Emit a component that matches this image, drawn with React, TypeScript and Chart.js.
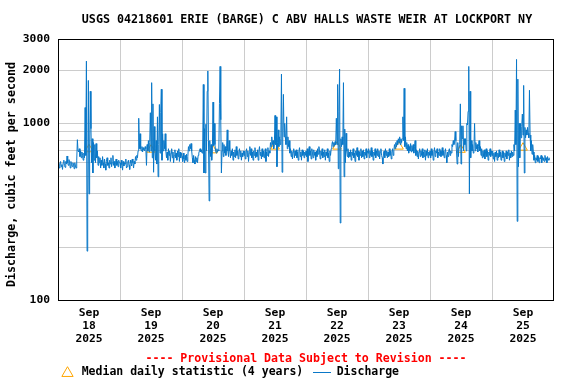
import React, { useEffect, useRef } from 'react';
import { Chart, registerables } from 'chart.js';

Chart.register(...registerables);

const TITLE = 'USGS 04218601 ERIE (BARGE) C ABV HALLS WASTE WEIR AT LOCKPORT NY';
const Y_TITLE = 'Discharge, cubic feet per second';
const PROVISIONAL = '---- Provisional Data Subject to Revision ----';
const LEGEND_MEDIAN = 'Median daily statistic (4 years)';
const LEGEND_DISCHARGE = 'Discharge';

const monthLabel = 'Sep';
const yearLabel = '2025';
const dayLabels = ['18', '19', '20', '21', '22', '23', '24', '25'];

const yTickValues = [100, 200, 300, 400, 500, 600, 700, 800, 900, 1000, 2000, 3000];
const yLabeledValues = [100, 1000, 2000, 3000];

// Discharge, cubic feet per second, 15-minute values for each day (from 00:00)
const sep18 = [575, 600, 560, 590, 610, 570, 585, 550, 600, 620, 580, 565, 610, 590, 655, 600, 580, 625, 600, 560, 610, 585, 570, 600, 590, 555, 600, 575, 560, 620, 810, 700, 690, 720, 650, 700, 640, 690, 660, 620, 680, 640, 1230, 660, 2250, 190, 365, 1750, 400, 700, 1520, 935, 600, 820, 525, 780, 620, 760, 600, 770, 640, 700, 580, 650, 600, 640, 560, 620, 580, 650, 600, 560, 630, 590, 545, 610, 640, 580, 600, 560, 620, 590, 640, 570, 600, 660, 580, 610, 560, 600, 630, 580, 610, 570, 620, 600];
const sep19 = [600, 560, 620, 585, 545, 610, 575, 600, 590, 630, 560, 570, 605, 620, 580, 550, 620, 600, 575, 630, 600, 560, 610, 590, 650, 620, 660, 640, 700, 1070, 720, 875, 720, 700, 740, 690, 730, 710, 700, 740, 720, 580, 760, 700, 800, 690, 780, 1150, 700, 1700, 640, 1290, 530, 960, 700, 620, 800, 590, 1090, 500, 760, 1280, 680, 1150, 1560, 620, 875, 700, 800, 720, 875, 700, 640, 690, 620, 720, 660, 700, 610, 680, 720, 640, 690, 600, 660, 710, 640, 680, 620, 700, 650, 720, 610, 690, 640, 680];
const sep20 = [650, 610, 680, 630, 600, 660, 620, 670, 610, 650, 740, 700, 760, 720, 770, 700, 640, 600, 660, 620, 590, 650, 610, 640, 600, 660, 680, 700, 720, 690, 710, 680, 700, 1660, 525, 935, 525, 990, 700, 1520, 1980, 800, 365, 800, 650, 760, 620, 700, 1320, 750, 1000, 760, 700, 680, 720, 690, 710, 700, 1300, 2100, 1050, 525, 700, 780, 650, 760, 680, 740, 660, 720, 920, 700, 650, 800, 700, 640, 700, 660, 720, 620, 690, 650, 710, 640, 740, 660, 700, 630, 690, 720, 650, 700, 620, 680, 650, 700];
const sep21 = [660, 700, 630, 690, 720, 650, 700, 610, 680, 740, 660, 720, 640, 690, 620, 700, 660, 730, 640, 690, 650, 710, 620, 700, 740, 660, 690, 630, 720, 650, 700, 640, 680, 720, 610, 690, 660, 730, 650, 700, 680, 780, 740, 840, 760, 800, 720, 760, 1110, 760, 1090, 570, 780, 920, 740, 840, 760, 820, 1900, 530, 900, 1460, 840, 1000, 840, 760, 1090, 720, 840, 740, 800, 680, 720, 650, 700, 630, 690, 720, 640, 700, 660, 710, 640, 690, 620, 700, 730, 650, 690, 620, 710, 660, 700, 640, 690, 660];
const sep22 = [700, 650, 720, 610, 690, 740, 660, 700, 630, 720, 680, 640, 710, 660, 690, 620, 700, 650, 720, 670, 740, 690, 630, 700, 660, 720, 640, 690, 650, 710, 620, 690, 660, 720, 640, 680, 610, 700, 660, 720, 760, 790, 740, 780, 750, 790, 760, 1070, 760, 1660, 555, 1170, 2030, 274, 820, 740, 840, 760, 1700, 500, 930, 600, 880, 700, 650, 720, 640, 690, 650, 710, 620, 690, 660, 720, 640, 680, 610, 700, 660, 730, 650, 700, 620, 690, 660, 720, 640, 700, 650, 710, 630, 690, 660, 720, 640, 700];
const sep23 = [680, 720, 640, 700, 660, 730, 650, 700, 620, 690, 660, 720, 640, 700, 660, 720, 650, 700, 630, 690, 720, 660, 640, 590, 680, 700, 640, 720, 660, 700, 640, 690, 650, 720, 660, 700, 630, 690, 720, 660, 700, 760, 720, 780, 740, 800, 760, 820, 780, 840, 760, 820, 780, 820, 1090, 800, 1580, 740, 840, 720, 780, 700, 760, 680, 740, 700, 770, 690, 750, 700, 760, 680, 740, 800, 660, 710, 650, 700, 630, 690, 720, 650, 700, 660, 720, 640, 690, 650, 710, 620, 700, 660, 720, 640, 690, 660];
const sep24 = [700, 640, 720, 660, 700, 620, 690, 730, 650, 700, 680, 720, 640, 690, 660, 720, 700, 650, 690, 730, 660, 700, 640, 690, 720, 660, 600, 690, 650, 700, 720, 660, 700, 680, 760, 740, 800, 760, 790, 900, 800, 700, 590, 780, 650, 740, 760, 1290, 590, 970, 820, 970, 700, 820, 760, 820, 700, 1000, 980, 1170, 2100, 400, 1520, 640, 800, 700, 760, 680, 720, 1000, 700, 780, 720, 760, 690, 740, 800, 700, 740, 660, 720, 640, 700, 650, 710, 630, 690, 720, 650, 700, 620, 690, 660, 720, 650, 700];
const sep25 = [660, 700, 630, 680, 610, 690, 650, 700, 620, 680, 640, 710, 650, 690, 620, 670, 700, 640, 690, 610, 680, 650, 700, 630, 690, 660, 710, 620, 680, 640, 700, 650, 690, 660, 760, 700, 1190, 760, 2300, 280, 1780, 570, 1000, 640, 1000, 830, 960, 1130, 860, 1640, 525, 950, 830, 920, 860, 950, 880, 830, 1540, 860, 700, 800, 670, 760, 690, 620, 660, 600, 640, 620, 660, 610, 650, 600, 640, 630, 660, 600, 650, 620, 640, 610, 660, 620, 640, 600, 650, 630, 620, 640];

// Median daily statistic (4 years), one per day, plotted at noon
const medianValues = [715, 711, 705, 740, 740, 740, 710, 730];

const dailySeries = [sep18, sep19, sep20, sep21, sep22, sep23, sep24, sep25];

const BLUE = '#0a78c8';
const ORANGE = '#ffa500';
const GRID = '#cccccc';
const FONT_FAMILY = '"DejaVu Sans Mono", monospace';

const dischargePoints = dailySeries.flatMap((vals, d) =>
  vals.map((v, i) => ({ x: d * 24 + i * 0.25, y: v }))
);
const medianPoints = medianValues.map((v, d) => ({ x: d * 24 + 12, y: v }));
const xTickValues = Array.from({ length: dayLabels.length * 2 + 1 }, (_, k) => k * 12);

const decorPlugin = {
  id: 'usgsDecor',
  afterDraw(chart: any) {
    const { ctx, chartArea } = chart;
    const { left, right, top, bottom } = chartArea;
    ctx.save();
    // frame
    ctx.strokeStyle = '#000';
    ctx.lineWidth = 1;
    const x0 = Math.floor(left) + 0.5;
    const x1 = Math.ceil(right) - 0.5;
    const y0 = Math.floor(top) + 0.5;
    const y1 = Math.floor(bottom) + 0.5;
    ctx.strokeRect(x0, y0, x1 - x0, y1 - y0);

    // title
    ctx.fillStyle = '#000';
    ctx.font = `bold 11.7px ${FONT_FAMILY}`;
    ctx.textAlign = 'center';
    ctx.textBaseline = 'middle';
    ctx.fillText(TITLE, 307, 20);

    // y axis title
    ctx.save();
    ctx.translate(11.5, 174.5);
    ctx.rotate(-Math.PI / 2);
    ctx.font = `bold 11.7px ${FONT_FAMILY}`;
    ctx.textAlign = 'center';
    ctx.textBaseline = 'middle';
    ctx.fillText(Y_TITLE, 0, 0);
    ctx.restore();

    // provisional note
    ctx.fillStyle = '#ff0000';
    ctx.font = `bold 11.6px ${FONT_FAMILY}`;
    ctx.textAlign = 'center';
    ctx.textBaseline = 'middle';
    ctx.fillText(PROVISIONAL, 306, 358.5);

    // legend
    const ly = 372.5;
    const r = 6.5;
    const cx = 67.5;
    const cy = 373.2;
    ctx.strokeStyle = ORANGE;
    ctx.lineWidth = 1;
    ctx.beginPath();
    ctx.moveTo(cx, cy - r);
    ctx.lineTo(cx + r * Math.sin((2 * Math.PI) / 3), cy - r * Math.cos((2 * Math.PI) / 3));
    ctx.lineTo(cx + r * Math.sin((4 * Math.PI) / 3), cy - r * Math.cos((4 * Math.PI) / 3));
    ctx.closePath();
    ctx.stroke();

    ctx.fillStyle = '#000';
    ctx.font = `bold 11.5px ${FONT_FAMILY}`;
    ctx.textAlign = 'left';
    ctx.textBaseline = 'middle';
    ctx.fillText(LEGEND_MEDIAN, 81.7, ly);

    ctx.strokeStyle = BLUE;
    ctx.beginPath();
    ctx.moveTo(313, 372.5);
    ctx.lineTo(331, 372.5);
    ctx.stroke();

    ctx.fillText(LEGEND_DISCHARGE, 336.7, ly);
    ctx.restore();
  },
};

export default function App() {
  const canvasRef = useRef<HTMLCanvasElement>(null);

  useEffect(() => {
    document.body.style.margin = '0';
    const canvas = canvasRef.current;
    if (!canvas) return;
    const chart = new Chart(canvas, {
      type: 'line',
      data: {
        datasets: [
          {
            label: LEGEND_DISCHARGE,
            data: dischargePoints,
            borderColor: BLUE,
            backgroundColor: BLUE,
            borderWidth: 1,
            pointRadius: 0,
            tension: 0,
            fill: false,
            order: 0,
          },
          {
            label: LEGEND_MEDIAN,
            data: medianPoints,
            showLine: false,
            pointStyle: 'triangle',
            pointRadius: 5,
            pointBorderWidth: 1,
            pointBorderColor: ORANGE,
            pointBackgroundColor: 'rgba(0,0,0,0)',
            borderColor: ORANGE,
            order: 1,
          },
        ],
      },
      options: {
        responsive: false,
        animation: false,
        devicePixelRatio: 1,
        events: [],
        layout: { padding: { top: 39, right: 22, bottom: 0, left: 0 } },
        plugins: {
          legend: { display: false },
          title: { display: false },
          tooltip: { enabled: false },
        },
        scales: {
          x: {
            type: 'linear',
            min: 0,
            max: dayLabels.length * 24,
            afterBuildTicks: (scale: any) => {
              scale.ticks = xTickValues.map((v) => ({ value: v }));
            },
            afterFit: (scale: any) => {
              scale.height = 83.5;
            },
            border: { display: false },
            grid: {
              drawTicks: false,
              lineWidth: 1,
              color: (c: any) => {
                const v = c.tick ? c.tick.value : 0;
                return v % 24 === 0 && v > 0 && v < dayLabels.length * 24 ? GRID : 'rgba(0,0,0,0)';
              },
            },
            ticks: {
              autoSkip: false,
              maxRotation: 0,
              minRotation: 0,
              padding: 6,
              color: '#000',
              font: { family: FONT_FAMILY, size: 11.3, weight: 'bold', lineHeight: 1.17 },
              callback: (value: any) => {
                const v = Number(value);
                if (v % 24 !== 12) return '';
                const d = (v - 12) / 24;
                return [monthLabel, dayLabels[d], yearLabel];
              },
            },
          },
          y: {
            type: 'logarithmic',
            min: 100,
            max: 3000,
            afterBuildTicks: (scale: any) => {
              scale.ticks = yTickValues.map((v) => ({ value: v }));
            },
            afterFit: (scale: any) => {
              scale.width = 58;
            },
            border: { display: false },
            grid: {
              drawTicks: false,
              lineWidth: 1,
              color: GRID,
            },
            ticks: {
              padding: 8,
              color: '#000',
              font: { family: FONT_FAMILY, size: 11.3, weight: 'bold' },
              callback: (value: any) => {
                const v = Number(value);
                return yLabeledValues.includes(v) ? String(v) : '';
              },
            },
          },
        },
      },
      plugins: [decorPlugin],
    });
    return () => chart.destroy();
  }, []);

  return (
    <div style={{ width: 576, height: 384, background: '#fff' }}>
      <canvas ref={canvasRef} width={576} height={384} style={{ display: 'block' }} />
    </div>
  );
}
